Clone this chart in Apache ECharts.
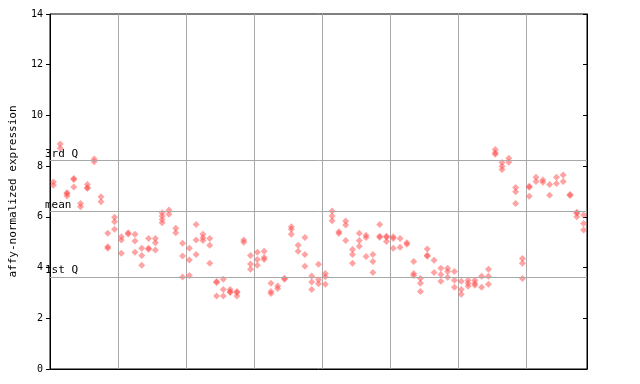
<!DOCTYPE html>
<html>
<head>
<meta charset="utf-8">
<script src="https://cdn.jsdelivr.net/npm/echarts@6/dist/echarts.min.js"></script>
<style>html,body{margin:0;padding:0;background:#fff}#c{width:640px;height:384px}</style>
</head>
<body>
<div id="c"></div>
<script>
// replicate values per sample (79 samples, left to right)
const rep1 = [7.37,8.87,6.95,7.51,6.53,7.28,8.28,6.79,5.35,5.98,5.22,5.37,5.31,4.76,5.15,5.15,6.16,6.27,5.55,4.96,4.76,5.70,5.31,5.15,3.45,3.54,3.14,3.06,5.09,4.48,4.60,4.64,3.38,3.27,3.58,5.61,4.88,5.19,3.67,4.13,3.77,6.23,5.41,5.84,4.71,5.35,5.27,4.52,5.70,5.24,5.22,5.15,4.98,4.24,3.57,4.73,4.29,3.97,3.97,3.85,3.46,3.50,3.50,3.66,3.93,8.66,8.14,8.31,7.16,4.36,7.21,7.56,7.45,7.28,7.56,7.65,6.88,6.18,6.07];
const rep2 = [7.25,8.71,6.91,7.47,6.40,7.15,8.17,6.60,4.82,5.81,5.09,5.32,5.05,4.48,4.76,4.98,6.03,6.10,5.37,4.46,4.30,5.09,5.18,4.88,3.41,3.14,3.05,3.02,5.00,4.14,4.32,4.40,3.06,3.17,3.54,5.51,4.64,4.52,3.43,3.52,3.64,6.03,5.34,5.68,4.52,5.07,5.19,4.24,5.24,5.20,5.15,4.80,4.92,3.77,3.38,4.49,3.81,3.73,3.85,3.50,3.14,3.38,3.38,3.22,3.66,8.53,8.00,8.15,6.99,4.17,7.17,7.39,7.36,6.85,7.32,7.39,6.84,6.14,5.74];
const rep3 = [null,null,6.82,7.18,null,7.13,null,null,4.76,5.51,4.56,null,4.60,4.09,4.72,4.69,5.90,null,null,3.63,3.69,4.52,5.07,4.17,2.88,2.88,3.02,2.88,null,3.93,4.09,4.32,2.98,null,null,5.31,null,4.05,3.14,3.36,3.34,5.85,null,5.07,4.17,4.84,4.44,3.81,5.20,5.03,4.76,null,null,3.69,3.06,4.45,null,3.46,3.62,3.22,2.95,3.26,3.30,null,3.34,8.47,7.87,null,6.53,3.57,6.81,null,null,null,null,null,null,6.00,5.48];
const rep4 = [null,null,null,null,null,null,null,null,null,null,null,null,null,null,null,null,5.77,null,null,null,null,null,null,null,null,null,null,null,null,null,null,null,null,null,null,null,null,null,null,null,null,null,null,null,null,null,null,null,null,null,null,null,null,null,null,null,null,null,null,null,null,null,null,null,null,null,null,null,null,null,null,null,null,null,null,null,null,null,null];
const yTicks = [0,2,4,6,8,10,12,14];
const quartiles = [{name:'3rd Q', value:8.23},{name:'mean', value:6.22},{name:'1st Q', value:3.63}];

const pts = [];
[rep1,rep2,rep3,rep4].forEach(r => r.forEach((v,i) => { if (v != null) pts.push([i + 0.5, v]); }));

const mono = 'DejaVu Sans Mono';
const chart = echarts.init(document.getElementById('c'), null, {renderer:'canvas'});
chart.setOption({
  animation: false,
  grid: {left:44, top:14, width:543, height:355, show:true, borderColor:'#000', borderWidth:1, backgroundColor:'transparent'},
  xAxis: [{
    type:'value', min:0, max:rep1.length, interval:10,
    axisLine:{show:true, lineStyle:{color:'#000'}},
    axisTick:{show:false}, axisLabel:{show:false},
    splitLine:{show:true, lineStyle:{color:'#a8a8a8', width:1}}
  }],
  yAxis: [{
    type:'value', min:yTicks[0], max:yTicks[yTicks.length-1], interval:2,
    name:'affy-normalized expression', nameLocation:'middle', nameGap:31,
    nameTextStyle:{fontFamily:mono, fontSize:11, color:'#000'},
    axisLine:{show:true, lineStyle:{color:'#000'}},
    axisTick:{show:true, length:4, lineStyle:{color:'#000'}},
    axisLabel:{fontFamily:mono, fontSize:10, color:'#000', margin:7},
    splitLine:{show:false}
  },{
    type:'value', min:yTicks[0], max:yTicks[yTicks.length-1], interval:2, position:'right',
    axisLine:{show:true, lineStyle:{color:'#000'}},
    axisTick:{show:true, inside:true, length:4, lineStyle:{color:'#000'}},
    axisLabel:{show:false}, splitLine:{show:false}
  }],
  series: [{
    type:'scatter', data: pts, symbol:'diamond', symbolSize:7,
    itemStyle:{color:'rgba(255,70,70,0.62)'},
    markLine:{
      silent:true, symbol:'none',
      lineStyle:{color:'#a8a8a8', width:1, type:'solid'},
      label:{position:'insideStartTop', distance:[0,1], offset:[-5,0], padding:0, fontFamily:mono, fontSize:11, color:'#000', formatter: p => p.name},
      data: quartiles.map(q => ({name:q.name, yAxis:q.value}))
    }
  }]
});
</script>
</body>
</html>
